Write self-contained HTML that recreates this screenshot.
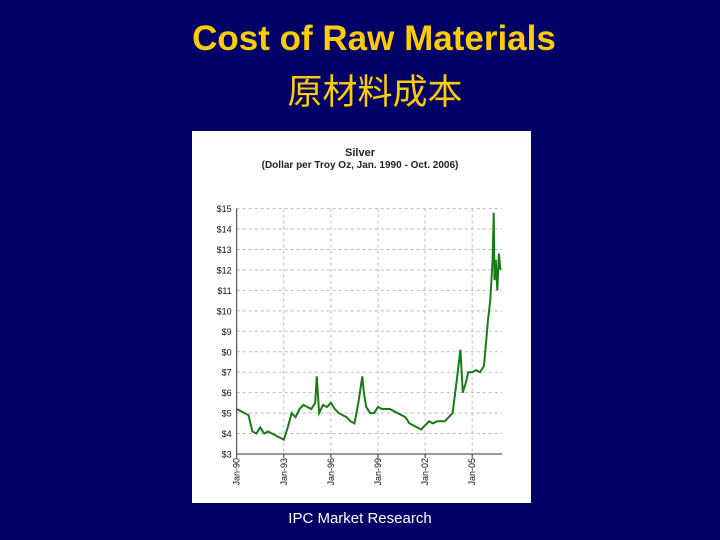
<!DOCTYPE html>
<html><head><meta charset="utf-8"><style>
body{margin:0;width:720px;height:540px;background:#000066;overflow:hidden;position:relative;font-family:"Liberation Sans","Noto Sans CJK SC",sans-serif}
#t{position:absolute;left:0;width:748px;top:19px;text-align:center;color:#FFCC00;font-weight:bold;font-size:35px}
#c{position:absolute;left:0;width:750px;top:64px;text-align:center;color:#FFCC00;font-size:35px}
#f{position:absolute;left:0;width:720px;top:510px;text-align:center;color:#fff;font-size:15px}
svg{position:absolute;left:0;top:0}
</style></head><body>
<div id="t">Cost of Raw Materials</div>
<div id="c">原材料成本</div>
<svg id="s" width="720" height="540"></svg>
<div id="f">IPC Market Research</div>
<script>
const yTicks=[3,4,5,6,7,8,9,10,11,12,13,14,15];
const yLabels=["$3","$4","$5","$6","$7","$0","$9","$10","$11","$12","$13","$14","$15"];
const xTicks=[1990,1993,1996,1999,2002,2005];
const xLabels=["Jan-90","Jan-93","Jan-96","Jan-99","Jan-02","Jan-05"];
const dates=[1990,1990.25,1990.5,1990.75,1991,1991.25,1991.5,1991.75,1992,1992.25,1992.5,1992.75,1993,1993.25,1993.5,1993.75,1994,1994.25,1994.5,1994.75,1995,1995.1,1995.25,1995.5,1995.75,1996,1996.25,1996.5,1996.75,1997,1997.25,1997.5,1997.75,1998,1998.1,1998.25,1998.5,1998.75,1999,1999.25,1999.5,1999.75,2000,2000.25,2000.5,2000.75,2001,2001.25,2001.5,2001.75,2002,2002.25,2002.5,2002.75,2003,2003.25,2003.5,2003.75,2004,2004.25,2004.4,2004.6,2004.75,2005,2005.25,2005.5,2005.75,2006,2006.15,2006.3,2006.37,2006.42,2006.5,2006.6,2006.7,2006.8];
const values=[5.2,5.1,5.0,4.9,4.1,4.0,4.3,4.0,4.1,4.0,3.9,3.8,3.7,4.3,5.0,4.8,5.2,5.4,5.3,5.2,5.5,6.8,5.0,5.4,5.3,5.5,5.2,5.0,4.9,4.8,4.6,4.5,5.5,6.8,6.0,5.3,5.0,5.0,5.3,5.2,5.2,5.2,5.1,5.0,4.9,4.8,4.5,4.4,4.3,4.2,4.4,4.6,4.5,4.6,4.6,4.6,4.8,5.0,6.5,8.1,6.0,6.5,7.0,7.0,7.1,7.0,7.3,9.5,10.5,12.5,14.8,11.5,12.5,11.0,12.8,12.0];
const S=document.getElementById('s'),N='http://www.w3.org/2000/svg';
const x0=236.7,yr0=1990,pxYr=15.7,y3=454,pxD=20.45;
const X=d=>x0+(d-yr0)*pxYr, Y=v=>y3-(v-3)*pxD;
function mk(t,a){const e=document.createElementNS(N,t);for(const k in a)e.setAttribute(k,a[k]);S.appendChild(e);return e;}
let e=mk('rect',{x:192,y:131,width:339,height:372,fill:'#fff'});

e=mk('text',{x:360,y:156,'text-anchor':'middle','font-size':11,'font-weight':'bold','font-family':'Liberation Sans',fill:'#222'});e.textContent='Silver';

e=mk('text',{x:360,y:168,'text-anchor':'middle','font-size':10,'font-weight':'bold','font-family':'Liberation Sans',fill:'#222'});e.textContent='(Dollar per Troy Oz, Jan. 1990 - Oct. 2006)';

const xr=X(2006.9);
yTicks.forEach((v,i)=>{
 if(i>0){e=mk('line',{x1:x0,x2:xr,y1:Y(v),y2:Y(v),stroke:'#bbb','stroke-dasharray':'3,3'});
 }
 e=mk('text',{x:x0-5,y:Y(v)+3.5,'text-anchor':'end','font-size':9,'font-family':'Liberation Sans',fill:'#111'});e.textContent=yLabels[i];
 
});
xTicks.forEach((d,i)=>{
 if(i>0){e=mk('line',{x1:X(d),x2:X(d),y1:Y(15),y2:y3,stroke:'#bbb','stroke-dasharray':'3,3'});
 }
 e=mk('line',{x1:X(d),x2:X(d),y1:y3,y2:y3+4,stroke:'#333'});
 e=mk('text',{x:X(d)+3,y:y3+4,'text-anchor':'end','font-size':9,'font-family':'Liberation Sans',fill:'#111',transform:`rotate(-90 ${X(d)+3} ${y3+4})`});e.textContent=xLabels[i];
 
});
e=mk('line',{x1:x0,x2:x0,y1:Y(15),y2:y3,stroke:'#333'});
e=mk('line',{x1:x0,x2:xr,y1:y3,y2:y3,stroke:'#333'});
e=mk('polyline',{points:dates.map((d,i)=>X(d)+','+Y(values[i])).join(' '),fill:'none',stroke:'#1a7a1a','stroke-width':2});

</script>
</body></html>
